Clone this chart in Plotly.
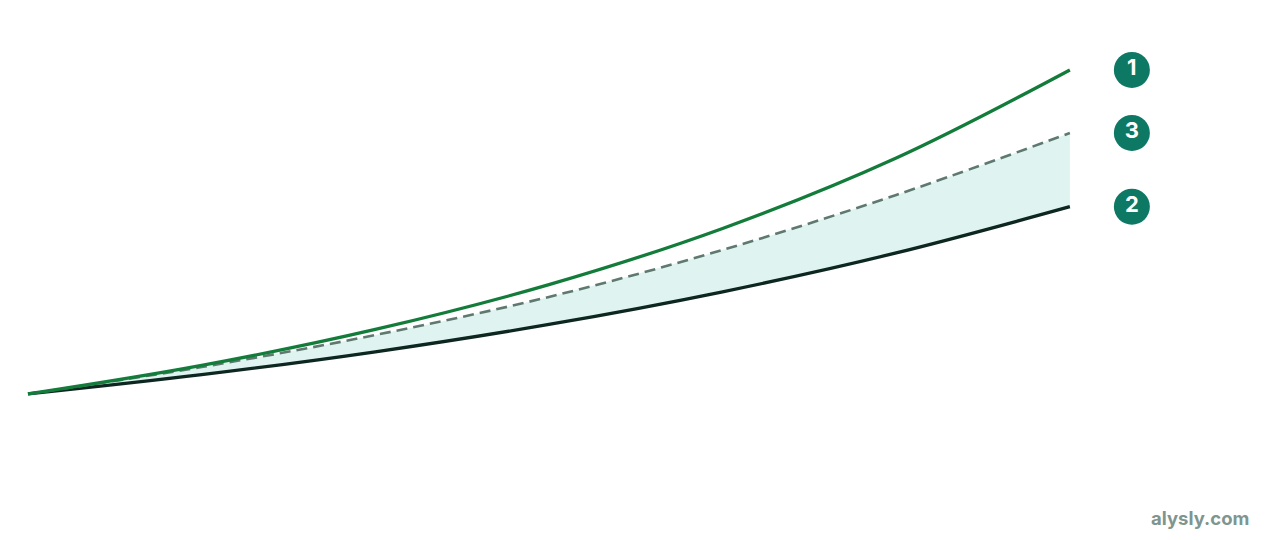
import plotly.graph_objects as go

# years on the x axis
years = [0, 5, 10, 15, 20, 25, 30]

# values (start = 100)
line_1 = [100, 126.7, 160.3, 202.2, 254.7, 320.5, 402.8]   # green, top
line_3 = [100, 125.2, 155.1, 190.7, 234.6, 286.0, 343.9]   # dashed, middle
line_2 = [100, 118.0, 139.4, 165.0, 195.5, 231.8, 275.0]   # dark, bottom

badge_labels = ["1", "3", "2"]
badge_x = 31.785

GREEN = "#137c3b"
DASH = "#5f7970"
DARK = "#0d2620"
FILL = "#dff4f0"
BADGE = "#0d7864"

fig = go.Figure()

# shaded band between line 2 and line 3
fig.add_trace(go.Scatter(x=years, y=line_2, mode="lines", line=dict(width=0, shape="spline"),
                         hoverinfo="skip", showlegend=False))
fig.add_trace(go.Scatter(x=years, y=line_3, mode="lines", line=dict(width=0, shape="spline"),
                         fill="tonexty", fillcolor=FILL, hoverinfo="skip", showlegend=False))

# the lines
fig.add_trace(go.Scatter(x=years, y=line_2, mode="lines",
                         line=dict(color=DARK, width=3.3, shape="spline"), showlegend=False))
fig.add_trace(go.Scatter(x=years, y=line_3, mode="lines",
                         line=dict(color=DASH, width=2.6, shape="spline", dash="11px,6px"), showlegend=False))
fig.add_trace(go.Scatter(x=years, y=line_1, mode="lines",
                         line=dict(color=GREEN, width=3.3, shape="spline"), showlegend=False))

# numbered badges at the end of each line
fig.add_trace(go.Scatter(
    x=[badge_x] * 3,
    y=[line_1[-1], line_3[-1], line_2[-1]],
    mode="markers+text",
    marker=dict(size=36, color=BADGE, line=dict(width=0)),
    text=[f"<b>{t}</b>" for t in badge_labels],
    textposition="middle center",
    textfont=dict(color="white", size=22, family="Inter"),
    showlegend=False,
    hoverinfo="skip",
))

fig.add_annotation(text="<b>alysly.com</b>", xref="paper", yref="paper",
                   x=1.0, y=0.0, xanchor="right", yanchor="bottom",
                   xshift=-21, yshift=1, showarrow=False,
                   font=dict(size=18.5, color="#7f9590", family="Inter"))

# page has an 8px body margin, so the figure is 16px smaller than the window
fig.update_xaxes(range=[-0.576, 35.82], visible=False)
fig.update_yaxes(range=[-29.0, 460.7], visible=False)
fig.update_layout(
    width=1264, height=524,
    margin=dict(l=0, r=0, t=0, b=0),
    plot_bgcolor="white", paper_bgcolor="white",
    font=dict(family="Inter"),
)

fig.write_html("out.html")
